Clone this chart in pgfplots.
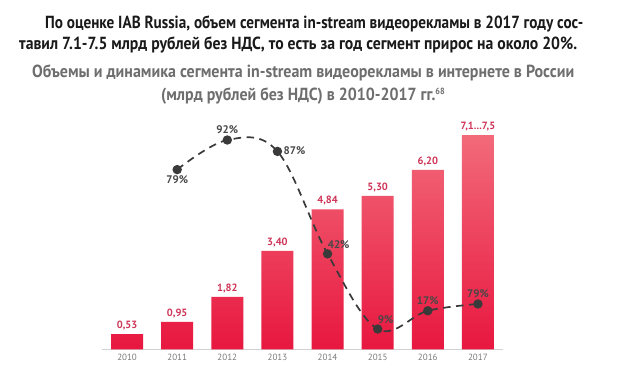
\documentclass[border=0pt]{standalone}
\usepackage{fontspec}
\setmainfont{PT Sans}
\usepackage{graphicx}
\usepackage{pgfplots}
\pgfplotsset{compat=1.18}
\usepackage{pgfplotstable}
\definecolor{barlabel}{HTML}{CF3558}
\definecolor{bartop}{HTML}{F26A7A}
\definecolor{barbot}{HTML}{E8173F}
\definecolor{linegray}{HTML}{3A3A3A}
\definecolor{pctgray}{HTML}{484848}
\definecolor{subgray}{HTML}{6E6E6E}
\definecolor{tickgray}{HTML}{7A7A7A}
\definecolor{titleblack}{HTML}{1A1A1A}
\newsavebox\tbox
\newcommand\fitw[2]{\sbox\tbox{#2}\pgfmathsetmacro\sx{#1/\wd\tbox}\scalebox{\sx}[1]{\usebox\tbox}}
\pgfplotstableread{
year value lab
2010 0.53 {0,53}
2011 0.95 {0,95}
2012 1.82 {1,82}
2013 3.40 {3,40}
2014 4.84 {4,84}
2015 5.30 {5,30}
2016 6.20 {6,20}
2017 7.40 {7,1...7,5}
}\bars
\pgfplotstableread{
year pct
2011 79
2012 92
2013 87
2014 42
2015 9
2016 17
2017 20
}\pcts
\begin{document}
\begin{tikzpicture}
\useasboundingbox[fill=white] (0pt,0pt) rectangle (620pt,382pt);
\node[anchor=base west, inner sep=0, text=titleblack, font=\bfseries\fontsize{17.5}{17.5}\selectfont] at (45pt,353pt)
  {\fitw{538}{По оценке IAB Russia, объем сегмента in-stream видеорекламы в 2017 году сос-}};
\node[anchor=base west, inner sep=0, text=titleblack, font=\bfseries\fontsize{17.5}{17.5}\selectfont] at (19pt,332pt)
  {\fitw{558}{тавил 7.1-7.5 млрд рублей без НДС, то есть за год сегмент прирос на около 20\%.}};
\node[anchor=base west, inner sep=0, text=subgray, font=\bfseries\fontsize{17.5}{17.5}\selectfont] at (32pt,304pt)
  {\fitw{542}{Объемы и динамика сегмента in-stream видеорекламы в интернете в России}};
\node[anchor=base west, inner sep=0, text=subgray, font=\bfseries\fontsize{17.5}{17.5}\selectfont] at (161pt,281pt)
  {\fitw{284}{(млрд рублей без НДС) в 2010-2017 гг.\textsuperscript{\fontsize{9}{9}\selectfont 68}}};
\begin{axis}[
  at={(102pt,32.5pt)}, anchor=south west,
  width=401pt, height=231.8pt, scale only axis,
  xmin=2009.5, xmax=2017.5, ymin=0, ymax=8,
  axis x line*=bottom, axis y line=none,
  x axis line style={draw=gray!35, line width=0.8pt, -},
  xtick={2010,...,2017},
  xticklabels={2010,2011,2012,2013,2014,2015,2016,2017},
  xticklabel style={text=tickgray, font=\fontsize{9}{9}\selectfont, yshift=-1pt},
  major tick length=0pt,
  clip=false,
]
\addplot[ybar, bar width=32pt, draw=none, top color=bartop, bottom color=barbot,
  nodes near coords, point meta=explicit symbolic,
  nodes near coords style={text=barlabel, font=\bfseries\fontsize{10.5}{10.5}\selectfont, inner sep=2pt, yshift=2pt}]
  table[x=year, y=value, meta=lab] {\bars};
\end{axis}
\begin{axis}[
  at={(102pt,32.5pt)}, anchor=south west,
  width=401pt, height=231.8pt, scale only axis,
  xmin=2009.5, xmax=2017.5, ymin=0, ymax=101.8,
  hide axis, clip=false,
  every node near coord/.append style={text=pctgray, font=\bfseries\fontsize{11}{11}\selectfont, inner sep=1pt},
]
\addplot[linegray, line width=1.7pt, dash pattern=on 7.5pt off 5.5pt, smooth, tension=0.6,
  mark=*, mark size=3.8pt, mark options={solid, fill=linegray, draw=linegray}]
  table[x=year, y=pct] {\pcts};
\addplot[draw=none, mark=none, nodes near coords, point meta=explicit symbolic,
  nodes near coords style={anchor=north, yshift=-5pt}]
  coordinates {(2011,79) [79\%]};
\addplot[draw=none, mark=none, nodes near coords, point meta=explicit symbolic,
  nodes near coords style={anchor=south, yshift=5pt}]
  coordinates {(2012,92) [92\%] (2016,17) [17\%] (2017,20) [79\%]};
\addplot[draw=none, mark=none, nodes near coords, point meta=explicit symbolic,
  nodes near coords style={anchor=west, xshift=5pt, yshift=1pt}]
  coordinates {(2013,87) [87\%]};
\addplot[draw=none, mark=none, nodes near coords, point meta=explicit symbolic,
  nodes near coords style={anchor=south west, xshift=-1pt, yshift=4pt}]
  coordinates {(2014,42) [42\%] (2015,9) [9\%]};
\end{axis}
\end{tikzpicture}
\end{document}
